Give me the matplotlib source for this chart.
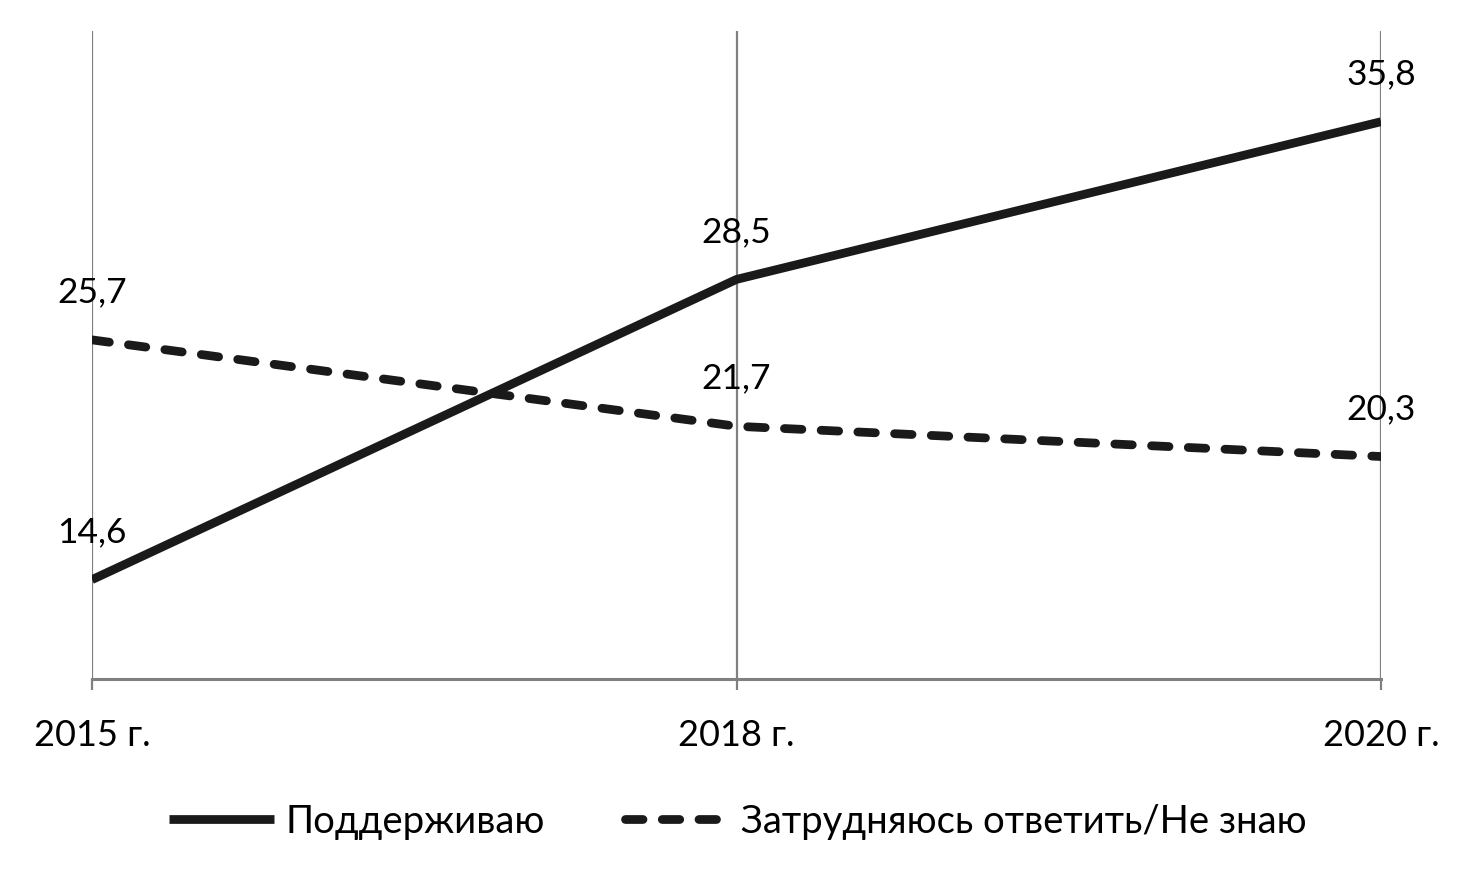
import matplotlib
matplotlib.use("Agg")
import matplotlib.pyplot as plt

plt.rcParams['font.family'] = ['Lato', 'DejaVu Sans']

years = ["2015 г.", "2018 г.", "2020 г."]
support = [14.6, 28.5, 35.8]
unsure = [25.7, 21.7, 20.3]
series_names = ["Поддерживаю", "Затрудняюсь ответить/Не знаю"]

fig = plt.figure(figsize=(14.76, 8.78), dpi=100)
ax = fig.add_axes([92 / 1476, 1 - 680 / 878, (1381 - 92) / 1476, (680 - 32) / 878])

x = list(range(len(years)))
line_color = "#1a1a1a"
grid_color = "#808080"

ax.plot(x, support, color=line_color, lw=6.3, solid_capstyle="butt", label=series_names[0], zorder=3)
ax.plot(x, unsure, color=line_color, lw=6.3, dashes=(2.0, 2.2), dash_capstyle="round",
        label=series_names[1], zorder=3)

# value labels above each point, decimal comma
for vals in (support, unsure):
    for xi, v in zip(x, vals):
        ax.annotate(f"{v:.1f}".replace(".", ","), (xi, v), xytext=(0, 35),
                    textcoords="offset points", ha="center", va="center", fontsize=25.5)

ax.set_xlim(0, 2)
ax.set_ylim(10, 40)
ax.set_xticks(x)
ax.set_xticklabels(years, fontsize=26)
ax.set_yticks([])
ax.grid(axis="x", color=grid_color, lw=1.6)
for side in ("top", "right", "left"):
    ax.spines[side].set_visible(False)
ax.spines["bottom"].set_color(grid_color)
ax.spines["bottom"].set_linewidth(2.2)
ax.tick_params(axis="x", length=8, width=1.6, color=grid_color, pad=20)

fig.legend(loc="center", bbox_to_anchor=(0.5, 1 - 822 / 878), ncol=2, frameon=False,
           fontsize=27.5, handlelength=2.75, handletextpad=0.3, columnspacing=2.1)

fig.savefig("out.png", dpi=100)
